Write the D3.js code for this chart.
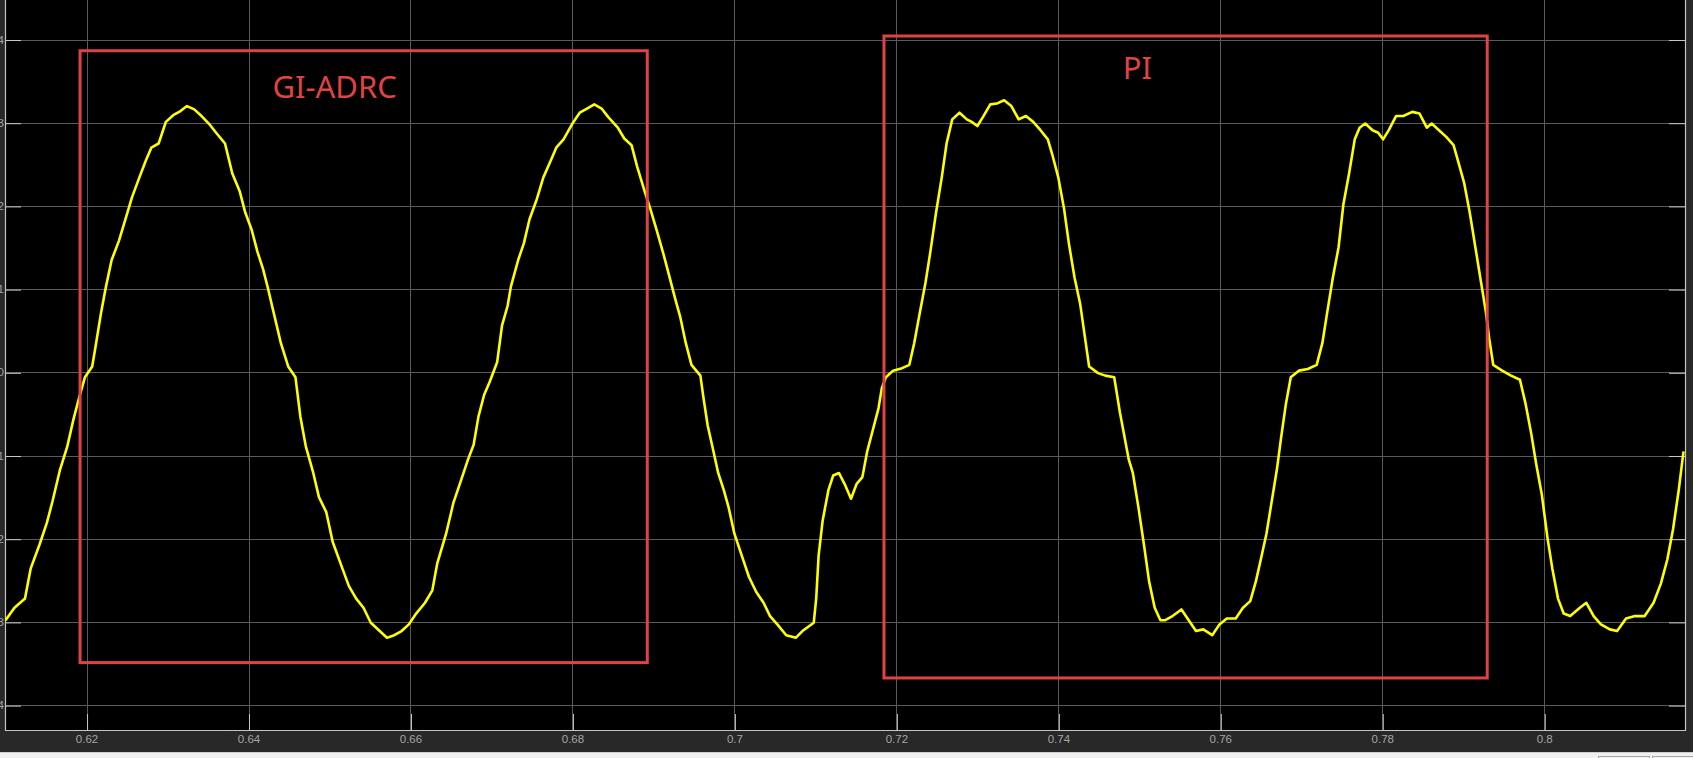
<!DOCTYPE html>
<html>
<head>
<meta charset="utf-8">
<script src="https://cdn.jsdelivr.net/npm/d3@7"></script>
<style>
  html, body { margin: 0; padding: 0; background: #282828; overflow: hidden; }
  svg { display: block; }
</style>
</head>
<body>
<svg id="chart" width="1693" height="758"></svg>
<script>
// ---- data (time in s, value) ----
const timeValues = [
  0.6100,0.6111,0.6124,0.6131,0.6142,0.6151,0.6158,0.6167,0.6176,0.6184,0.6191,0.6198,0.6207,0.6211,0.6218,0.6224,0.6231,0.6240,0.6249,0.6256,
  0.6264,0.6273,0.6280,0.6289,0.6298,0.6307,0.6316,0.6324,0.6333,0.6342,0.6351,0.6360,0.6371,0.6380,0.6389,0.6396,0.6404,0.6411,0.6418,0.6424,
  0.6431,0.6440,0.6449,0.6458,0.6464,0.6471,0.6480,0.6487,0.6496,0.6504,0.6516,0.6524,0.6533,0.6542,0.6551,0.6562,0.6571,0.6580,0.6589,0.6598,
  0.6607,0.6618,0.6627,0.6633,0.6644,0.6653,0.6662,0.6671,0.6678,0.6684,0.6691,0.6698,0.6707,0.6713,0.6720,0.6724,0.6733,0.6740,0.6747,0.6756,
  0.6764,0.6773,0.6780,0.6789,
  0.6800,0.6809,0.6818,0.6827,0.6836,0.6844,0.6856,0.6864,0.6873,0.6880,0.6889,0.6896,0.6904,0.6913,0.6920,0.6927,0.6933,0.6940,0.6947,0.6958,
  0.6962,0.6967,0.6973,0.6980,0.6987,0.6993,0.7000,0.7009,0.7018,0.7027,0.7036,0.7044,0.7053,0.7064,0.7076,0.7084,0.7098,0.7101,0.7104,0.7109,
  0.7116,0.7122,0.7129,0.7136,0.7144,0.7151,0.7158,0.7164,0.7171,0.7178,0.7182,0.7187,0.7196,0.7207,0.7216,0.7222,0.7229,0.7236,0.7242,0.7249,
  0.7256,0.7262,0.7269,0.7278,0.7287,0.7293,0.7300,0.7307,0.7316,0.7324,0.7333,0.7342,0.7351,0.7360,0.7369,0.7378,0.7387,0.7393,0.7400,0.7407,
  0.7413,0.7420,0.7427,0.7433,0.7438,0.7449,0.7458,0.7469,0.7476,0.7487,
  0.7492,0.7499,0.7506,0.7512,0.7519,0.7526,0.7532,0.7541,0.7552,0.7561,0.7570,0.7579,0.7590,0.7599,0.7608,0.7619,0.7628,0.7637,0.7644,0.7650,
  0.7657,0.7664,0.7670,0.7675,0.7681,0.7687,0.7697,0.7708,0.7719,0.7726,0.7732,0.7739,0.7746,0.7752,0.7759,0.7766,0.7772,0.7779,0.7788,0.7795,
  0.7801,0.7808,0.7817,0.7826,0.7837,0.7846,0.7855,0.7861,0.7870,0.7879,0.7888,0.7895,0.7901,0.7908,0.7915,0.7921,0.7928,0.7932,0.7937,0.7948,
  0.7959,0.7970,0.7977,0.7984,0.7990,0.7997,0.8004,0.8010,0.8017,0.8024,0.8032,0.8044,0.8052,0.8061,0.8070,0.8081,0.8090,0.8101,0.8112,0.8124,
  0.8135,0.8144,0.8152,0.8159,0.8166,0.8172
];
const signalValues = [
  -2.98,-2.83,-2.72,-2.36,-2.07,-1.81,-1.55,-1.18,-0.90,-0.56,-0.30,-0.06,0.07,0.30,0.72,1.03,1.35,1.58,1.87,2.10,
  2.31,2.54,2.70,2.75,3.01,3.09,3.14,3.20,3.16,3.08,2.99,2.88,2.75,2.39,2.18,1.92,1.71,1.45,1.24,1.01,
  0.72,0.35,0.07,-0.06,-0.53,-0.90,-1.21,-1.50,-1.68,-2.04,-2.36,-2.57,-2.72,-2.83,-3.01,-3.11,-3.19,-3.16,-3.11,-3.03,
  -2.90,-2.77,-2.62,-2.30,-1.94,-1.57,-1.31,-1.05,-0.87,-0.53,-0.27,-0.11,0.12,0.56,0.80,1.03,1.35,1.55,1.84,2.08,
  2.34,2.54,2.70,2.80,
  2.99,3.12,3.17,3.22,3.17,3.07,2.94,2.81,2.73,2.47,2.18,1.97,1.71,1.40,1.14,0.88,0.67,0.35,0.09,-0.04,
  -0.32,-0.64,-0.90,-1.21,-1.42,-1.63,-1.94,-2.20,-2.46,-2.64,-2.77,-2.93,-3.03,-3.16,-3.19,-3.11,-3.01,-2.72,-2.20,-1.78,
  -1.42,-1.24,-1.21,-1.34,-1.52,-1.34,-1.26,-0.95,-0.69,-0.43,-0.19,-0.06,0.02,0.05,0.09,0.35,0.72,1.08,1.45,1.92,
  2.34,2.75,3.04,3.12,3.04,3.01,2.96,3.07,3.22,3.23,3.27,3.20,3.04,3.08,3.01,2.91,2.80,2.60,2.34,1.97,
  1.55,1.14,0.82,0.41,0.07,-0.01,-0.04,-0.06,-0.48,-1.05,
  -1.21,-1.63,-2.09,-2.51,-2.83,-2.98,-2.98,-2.93,-2.85,-2.98,-3.11,-3.09,-3.16,-3.03,-2.96,-2.96,-2.83,-2.75,-2.51,-2.25,
  -1.94,-1.52,-1.16,-0.79,-0.38,-0.06,0.02,0.04,0.09,0.35,0.72,1.14,1.50,2.02,2.39,2.80,2.94,2.99,2.91,2.88,
  2.80,2.91,3.08,3.08,3.13,3.11,2.94,2.99,2.91,2.83,2.73,2.49,2.28,1.92,1.50,1.14,0.72,0.41,0.09,0.02,
  -0.04,-0.09,-0.38,-0.74,-1.10,-1.47,-1.99,-2.36,-2.72,-2.90,-2.93,-2.83,-2.77,-2.93,-3.03,-3.09,-3.11,-2.96,-2.93,-2.93,
  -2.77,-2.54,-2.25,-1.89,-1.42,-0.95
];
const xTickValues = [0.62, 0.64, 0.66, 0.68, 0.70, 0.72, 0.74, 0.76, 0.78, 0.80];
const xTickLabels = ["0.62", "0.64", "0.66", "0.68", "0.7", "0.72", "0.74", "0.76", "0.78", "0.8"];
const yTickValues = [-4, -3, -2, -1, 0, 1, 2, 3, 4];
const yTickLabels = ["-4", "-3", "-2", "-1", "0", "1", "2", "3", "4"];
const xDomain = [0.609932, 0.817381];
const yDomain = [-4.2993, 4.4748];
// annotation boxes
const boxLabels = ["GI-ADRC", "PI"];
const boxT0 = [0.61920, 0.71847];
const boxT1 = [0.68924, 0.79296];
const boxVTop = [3.865, 4.042];
const boxVBottom = [-3.489, -3.674];
const labelT = [0.65064, 0.74977];
const labelV = [3.292, 3.525];

// ---- layout ----
const W = 1693, H = 758;
const plot = { left: 5, right: 1685, top: 0, bottom: 730 };
const svg = d3.select("#chart");

const x = d3.scaleLinear().domain(xDomain).range([plot.left, plot.right]);
const y = d3.scaleLinear().domain(yDomain).range([plot.bottom, plot.top]);

// outer background
svg.append("rect").attr("x", 0).attr("y", 0).attr("width", W).attr("height", H).attr("fill", "#282828");
// bottom toolbar strip
svg.append("rect").attr("x", 0).attr("y", 752).attr("width", W).attr("height", 6).attr("fill", "#f0f0f0");
svg.append("line").attr("x1", 0).attr("x2", W).attr("y1", 752.5).attr("y2", 752.5).attr("stroke", "#cfcfcf");
svg.append("rect").attr("x", 1598.5).attr("y", 756.5).attr("width", 51).attr("height", 6).attr("fill", "none").attr("stroke", "#a8a8a8");
svg.append("rect").attr("x", 1652.5).attr("y", 756.5).attr("width", 45).attr("height", 6).attr("fill", "none").attr("stroke", "#a8a8a8");

// plot background
svg.append("rect")
  .attr("x", plot.left).attr("y", plot.top)
  .attr("width", plot.right - plot.left).attr("height", plot.bottom - plot.top)
  .attr("fill", "#000");

svg.append("clipPath").attr("id", "clip")
  .append("rect").attr("x", plot.left).attr("y", plot.top)
  .attr("width", plot.right - plot.left).attr("height", plot.bottom - plot.top);

// grid
const grid = svg.append("g").attr("clip-path", "url(#clip)");
grid.selectAll("line.vg").data(xTickValues).enter().append("line")
  .attr("x1", d => Math.round(x(d)) + 0.5).attr("x2", d => Math.round(x(d)) + 0.5)
  .attr("y1", plot.top).attr("y2", plot.bottom)
  .attr("stroke", "#5a5a5a").attr("stroke-width", 1);
grid.selectAll("line.hg").data(yTickValues).enter().append("line")
  .attr("y1", d => Math.round(y(d)) + 0.5).attr("y2", d => Math.round(y(d)) + 0.5)
  .attr("x1", plot.left).attr("x2", plot.right)
  .attr("stroke", "#5a5a5a").attr("stroke-width", 1);

// axes with inward ticks (scope style)
const tickLen = 16;
const xAxis = d3.axisBottom(x).tickValues(xTickValues)
  .tickFormat((d, i) => xTickLabels[i]).tickSizeInner(-tickLen).tickSizeOuter(0).tickPadding(5);
const gx = svg.append("g").attr("transform", `translate(0,${plot.bottom})`).call(xAxis);
gx.select(".domain").remove();
gx.selectAll(".tick line").attr("stroke", "#c8c8c8").attr("transform", "translate(0.5,0)");
gx.selectAll(".tick text").attr("fill", "#a4a4a4")
  .attr("font-family", "'Liberation Sans', Arial, sans-serif").attr("font-size", "11.5px");

const yAxis = d3.axisLeft(y).tickValues(yTickValues)
  .tickFormat((d, i) => yTickLabels[i]).tickSizeInner(-tickLen).tickSizeOuter(0).tickPadding(1);
const gy = svg.append("g").attr("transform", `translate(${plot.left},0)`).call(yAxis);
gy.select(".domain").remove();
gy.selectAll(".tick line").attr("stroke", "#c8c8c8").attr("transform", "translate(0,0.5)");
gy.selectAll(".tick text").attr("fill", "#a4a4a4")
  .attr("font-family", "'Liberation Sans', Arial, sans-serif").attr("font-size", "11.5px");

const yAxisR = d3.axisRight(y).tickValues(yTickValues).tickFormat("").tickSizeInner(-tickLen).tickSizeOuter(0);
const gyr = svg.append("g").attr("transform", `translate(${plot.right},0)`).call(yAxisR);
gyr.select(".domain").remove();
gyr.selectAll(".tick line").attr("stroke", "#c8c8c8").attr("transform", "translate(0,0.5)");

// frame
svg.append("path")
  .attr("d", `M${plot.left + 0.5},${plot.top} V${plot.bottom + 0.5} H${plot.right + 0.5} V${plot.top}`)
  .attr("fill", "none").attr("stroke", "#c4c4c4").attr("stroke-width", 1.2);

// signal
const data = timeValues.map((t, i) => ({ t, v: signalValues[i] }));
const line = d3.line().x(d => x(d.t)).y(d => y(d.v));
svg.append("g").attr("clip-path", "url(#clip)")
  .append("path").datum(data)
  .attr("d", line)
  .attr("fill", "none").attr("stroke", "#ffff00").attr("stroke-width", 2.6)
  .attr("stroke-linejoin", "round");

// annotation boxes
const boxes = boxLabels.map((label, i) => ({
  label, t0: boxT0[i], t1: boxT1[i], vt: boxVTop[i], vb: boxVBottom[i], lt: labelT[i], lv: labelV[i]
}));
const ann = svg.append("g");
ann.selectAll("rect.box").data(boxes).enter().append("rect")
  .attr("x", d => x(d.t0)).attr("y", d => y(d.vt))
  .attr("width", d => x(d.t1) - x(d.t0)).attr("height", d => y(d.vb) - y(d.vt))
  .attr("fill", "none").attr("stroke", "#e04343").attr("stroke-width", 3);
ann.selectAll("text.lbl").data(boxes).enter().append("text")
  .attr("x", d => x(d.lt)).attr("y", d => y(d.lv))
  .attr("text-anchor", "middle")
  .attr("fill", "#e04343")
  .attr("font-family", "'Noto Sans', 'Open Sans', sans-serif")
  .attr("font-size", "31px")
  .text(d => d.label);
</script>
</body>
</html>
